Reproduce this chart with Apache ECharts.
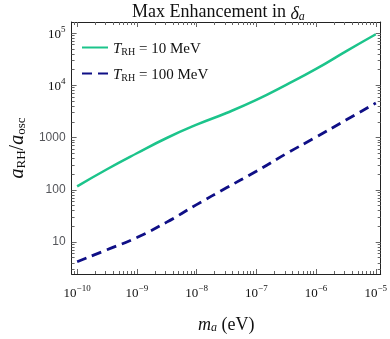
<!DOCTYPE html>
<html lang="en">
<head>
    <meta charset="UTF-8">
    <title>Max Enhancement</title>
</head>
<body style="margin:0">
<div id='main' style="height: 339px;width: 390px"></div>
</body>
<script src="https://cdn.jsdelivr.net/npm/echarts@6/dist/echarts.min.js"></script>
<script>
    // axion mass (eV), half-decade steps
    var masses = [1e-10, 3.16e-10, 1e-9, 3.16e-9, 1e-8, 3.16e-8, 1e-7, 3.16e-7, 1e-6, 3.16e-6, 1e-5];
    // a_RH / a_osc
    var trh10 = [116, 247, 500, 980, 1760, 2950, 5250, 10200, 20600, 44700, 95000];
    var trh100 = [4.2, 7.1, 12.2, 24, 52, 109, 226, 490, 1020, 2160, 4570];
    var xTicks = [1e-10, 1e-9, 1e-8, 1e-7, 1e-6, 1e-5];
    var yTicks = [10, 100, 1000, 1e4, 1e5];

    var FONT = 'Liberation Serif';

    function minorVals(e0, e1) {
        var out = [];
        for (var e = e0; e <= e1; e++) {
            for (var m = 2; m <= 9; m++) out.push(m * Math.pow(10, e));
        }
        return out;
    }

    function pow10Label(v) {
        var e = Math.round(Math.log10(v));
        if (v >= 10 && v < 1e4) return String(Math.round(v));
        return '{b|10}{sup|' + (e < 0 ? '\u2212' + (-e) : e) + '}';
    }

    var richTick = {
        b: {fontFamily: FONT, fontSize: 13, color: '#111', verticalAlign: 'bottom', lineHeight: 16},
        sup: {fontFamily: FONT, fontSize: 9, color: '#111', verticalAlign: 'top', lineHeight: 16}
    };

    function axis(pos, ticks, len, main, range) {
        return {
            type: 'log',
            logBase: 10,
            position: pos,
            min: range[0],
            max: range[1],
            splitLine: {show: false},
            axisLine: {show: main, onZero: false, lineStyle: {color: '#222', width: 1}},
            axisTick: {show: true, inside: true, length: len, customValues: ticks,
                lineStyle: {color: '#666', width: 1}},
            axisLabel: {show: false}
        };
    }

    var xRange = [Math.pow(10, -10.093), Math.pow(10, -4.918)];
    var yRange = [2.44, 1.63e5];

    var xMain = axis('bottom', xTicks, 5, true, xRange);
    xMain.axisLabel = {show: true, customValues: xTicks, margin: 10, formatter: pow10Label, rich: richTick};
    xMain.name = '{i|m}{s|a}{n| (eV)}';
    xMain.nameLocation = 'middle';
    xMain.nameGap = 38;
    xMain.nameTextStyle = {
        rich: {
            i: {fontFamily: FONT, fontStyle: 'italic', fontSize: 18, color: '#111', verticalAlign: 'bottom', lineHeight: 22},
            s: {fontFamily: FONT, fontStyle: 'italic', fontSize: 12, color: '#111', verticalAlign: 'bottom', lineHeight: 18},
            n: {fontFamily: FONT, fontSize: 18, color: '#111', verticalAlign: 'bottom', lineHeight: 22}
        }
    };

    var yMain = axis('left', yTicks, 5, true, yRange);
    yMain.axisLabel = {show: true, customValues: yTicks, margin: 6, formatter: pow10Label, rich: richTick};
    yMain.name = '{i|a}{s|RH}{n|/}{i|a}{s|osc}';
    yMain.nameLocation = 'middle';
    yMain.nameRotate = 90;
    yMain.nameGap = 36;
    yMain.nameTextStyle = {
        rich: {
            i: {fontFamily: FONT, fontStyle: 'italic', fontSize: 20, color: '#111', verticalAlign: 'bottom', lineHeight: 24},
            s: {fontFamily: FONT, fontSize: 13, color: '#111', verticalAlign: 'bottom', lineHeight: 19},
            n: {fontFamily: FONT, fontSize: 20, color: '#111', verticalAlign: 'bottom', lineHeight: 24}
        }
    };

    var myChart = echarts.init(document.getElementById('main'));

    var option = {
        animation: false,
        backgroundColor: '#fff',
        title: {
            text: 'Max Enhancement in {d|\u03b4}{s|a}',
            left: 132,
            top: 0,
            padding: [1, 0, 0, 0],
            textStyle: {
                fontFamily: FONT, fontSize: 18, fontWeight: 'normal', color: '#111',
                rich: {
                    d: {fontFamily: FONT, fontStyle: 'italic', fontSize: 18, color: '#111', verticalAlign: 'bottom', lineHeight: 22},
                    s: {fontFamily: FONT, fontStyle: 'italic', fontSize: 12, color: '#111', verticalAlign: 'bottom', lineHeight: 18}
                }
            }
        },
        grid: {left: 66, right: 7, top: 22, bottom: 62, containLabel: false},
        legend: {
            left: 76,
            top: 37,
            orient: 'vertical',
            itemWidth: 26,
            itemHeight: 12,
            itemGap: 11,
            itemStyle: {opacity: 0},
            data: ['10', '100'],
            formatter: function (name) {
                return '{i|T}{s|RH}{n| = ' + name + ' MeV}';
            },
            textStyle: {
                rich: {
                    i: {fontFamily: FONT, fontStyle: 'italic', fontSize: 15, color: '#111', verticalAlign: 'bottom', lineHeight: 19},
                    s: {fontFamily: FONT, fontSize: 10, color: '#111', verticalAlign: 'bottom', lineHeight: 15},
                    n: {fontFamily: FONT, fontSize: 15, color: '#111', verticalAlign: 'bottom', lineHeight: 19}
                }
            }
        },
        xAxis: [
            xMain,
            axis('bottom', minorVals(-11, -5), 3, false, xRange),
            axis('top', xTicks, 5, true, xRange),
            axis('top', minorVals(-11, -5), 3, false, xRange)
        ],
        yAxis: [
            yMain,
            axis('left', minorVals(0, 5), 3, false, yRange),
            axis('right', yTicks, 5, true, yRange),
            axis('right', minorVals(0, 5), 3, false, yRange)
        ],
        series: [
            {
                name: '10',
                type: 'line',
                smooth: 0.5,
                symbol: 'none',
                lineStyle: {color: '#1cc48b', width: 2.5},
                itemStyle: {color: '#1cc48b'},
                data: masses.map(function (m, i) { return [m, trh10[i]]; })
            },
            {
                name: '100',
                type: 'line',
                smooth: 0.5,
                symbol: 'none',
                lineStyle: {color: '#0f0f86', width: 2.8, type: [10, 6]},
                itemStyle: {color: '#0f0f86'},
                data: masses.map(function (m, i) { return [m, trh100[i]]; })
            }
        ]
    };
    myChart.setOption(option);
</script>
</html>
